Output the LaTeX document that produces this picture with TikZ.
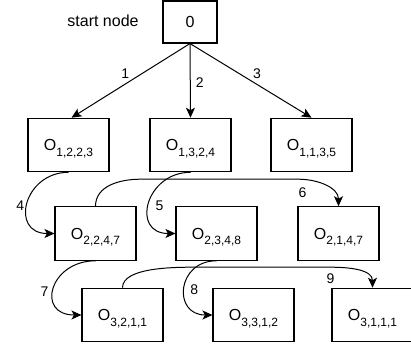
\documentclass[tikz,border=0pt]{standalone}
\usepackage{fontspec}
\setmainfont{Liberation Sans}
\usetikzlibrary{arrows.meta}
\newcommand{\opn}[1]{O\raisebox{-5.5pt}[0pt][0pt]{\fontsize{12}{12}\selectfont #1}}
\tikzset{
  opbox/.style={draw,line width=1.1pt,minimum width=81pt,minimum height=53.5pt,inner sep=0pt,font=\fontsize{16}{18}\selectfont},
  link/.style={line width=1pt,-{Stealth[length=10pt,width=9pt,inset=2.5pt]}},
  lbl/.style={font=\fontsize{14}{16}\selectfont,inner sep=1pt}
}
\begin{document}
\begin{tikzpicture}[x=1pt,y=-1pt]
\useasboundingbox (0,0) rectangle (411,347);
\node[opbox,minimum width=54pt,minimum height=42pt] (start) at (190,22) {0};
\node[font=\fontsize{16}{18}\selectfont] (startlbl) at (103,21) {start node};
\foreach \nm/\sub/\x/\y in {o1223/{1,2,2,3}/68.5/145, o1324/{1,3,2,4}/190.5/145, o1135/{1,1,3,5}/311.5/145,
  o2247/{2,2,4,7}/95.5/233.5, o2348/{2,3,4,8}/216.5/233.5, o2147/{2,1,4,7}/338.5/233.5,
  o3211/{3,2,1,1}/122.5/315, o3312/{3,3,1,2}/253.5/315, o3111/{3,1,1,1}/372.5/315}
  \node[opbox] (\nm) at (\x,\y) {\opn{\sub}};
\draw[link] (start.south) -- node[lbl,pos=.4,left=12pt]{1} ([xshift=3pt]o1223.north);
\draw[link] (start.south) -- node[lbl,pos=.53,right=4pt]{2} (o1324.north);
\draw[link] (start.south) -- node[lbl,pos=.4,right=13pt]{3} (o1135.north);
\draw[link] (o1223.south) .. controls +(-45,0) and +(-45,0) .. node[lbl,pos=.53,left=1.5pt]{4} (o2247.west);
\draw[link] (o1324.south) .. controls +(-45,0) and +(-45,0) .. node[lbl,pos=.53,right=5.5pt]{5} (o2348.west);
\draw[link] (o2247.north) to[out=90,in=180] ++(45,-27) -- node[lbl,pos=1,below=7pt,xshift=4pt]{6} ([xshift=-40pt,yshift=27pt]o2147.north) to[out=0,in=90] (o2147.north);
\draw[link] (o2247.south) .. controls +(-46,0) and +(-46,0) .. node[lbl,pos=.545,left=3.5pt]{7} (o3211.west);
\draw[link] (o2348.south) .. controls +(-40,0) and +(-40,0) .. node[lbl,pos=.52,right=4.5pt]{8} (o3312.west);
\draw[link] (o3211.north) to[out=90,in=180,looseness=.7] ++(70,-20.5) -- node[lbl,pos=1,below=5pt]{9} ([xshift=-42pt,yshift=20.5pt]o3111.north) to[out=0,in=90] (o3111.north);
\end{tikzpicture}
\end{document}
